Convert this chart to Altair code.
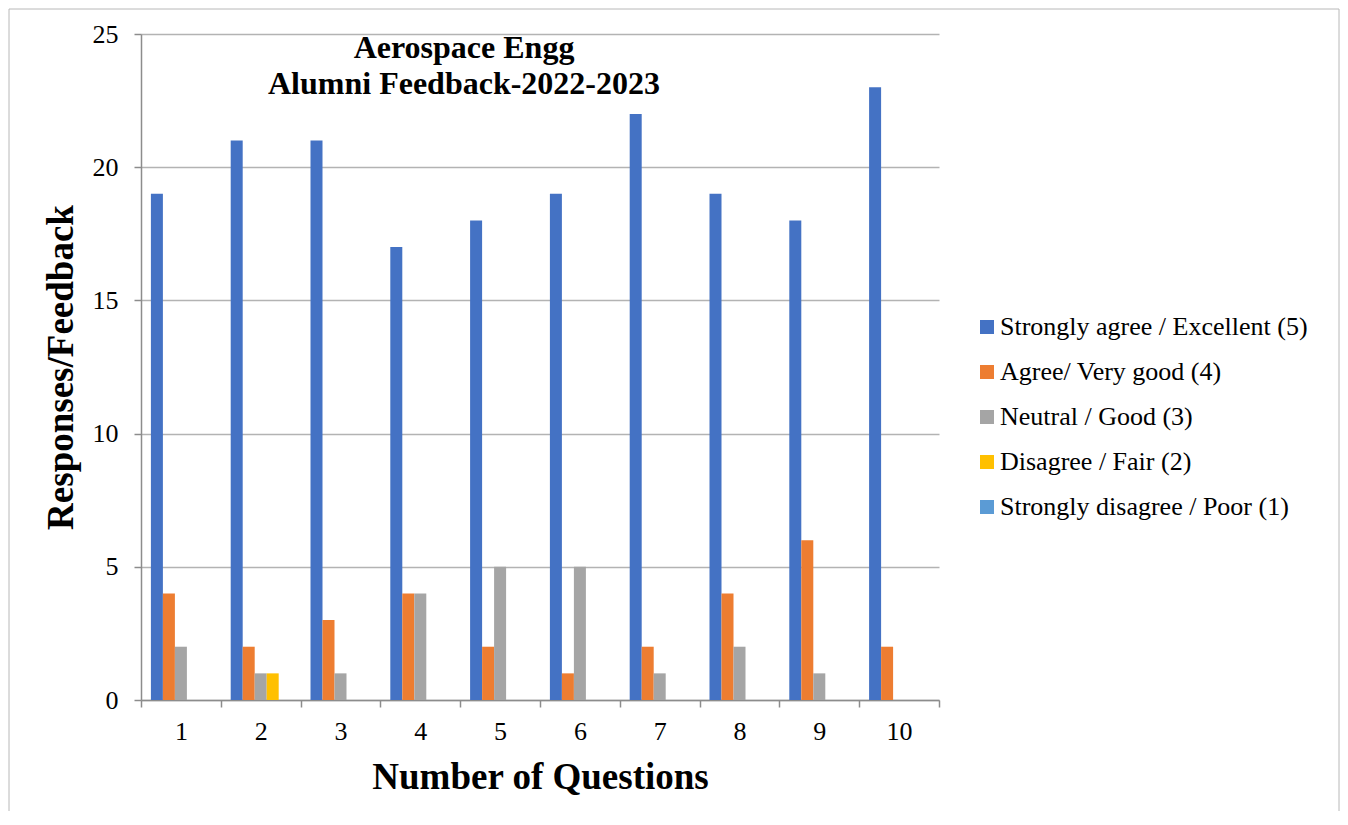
import altair as alt
import pandas as pd

questions = ["1", "2", "3", "4", "5", "6", "7", "8", "9", "10"]
series = [
    "Strongly agree / Excellent (5)",
    "Agree/ Very good (4)",
    "Neutral / Good (3)",
    "Disagree / Fair (2)",
    "Strongly disagree / Poor (1)",
]
colors = ["#4472C4", "#ED7D31", "#A5A5A5", "#FFC000", "#5B9BD5"]

excellent = [19, 21, 21, 17, 18, 19, 22, 19, 18, 23]
very_good = [4, 2, 3, 4, 2, 1, 2, 4, 6, 2]
good = [2, 1, 1, 4, 5, 5, 1, 2, 1, 0]
fair = [0, 1, 0, 0, 0, 0, 0, 0, 0, 0]
poor = [0, 0, 0, 0, 0, 0, 0, 0, 0, 0]
y_ticks = [0, 5, 10, 15, 20, 25]

title_text = "Aerospace Engg\nAlumni Feedback-2022-2023"

rows = []
for i, q in enumerate(questions):
    for s, vals in zip(series, [excellent, very_good, good, fair, poor]):
        rows.append({"Question": q, "Series": s, "Count": vals[i]})
df = pd.DataFrame(rows)

FONT = "Liberation Serif"
AXIS_GRAY = "#8c8c8c"
GRID_GRAY = "#b3b3b3"
FRAME_GRAY = "#b8b8b8"

bars = alt.Chart(df).mark_bar().encode(
    x=alt.X(
        "Question:N",
        sort=questions,
        scale=alt.Scale(paddingInner=0, paddingOuter=0),
        axis=alt.Axis(
            title="Number of Questions",
            labelAngle=0,
            tickBand="extent",
            grid=False,
            domainColor=AXIS_GRAY,
            domainWidth=1.5,
            tickColor=AXIS_GRAY,
            tickWidth=1.5,
            tickSize=7,
            labelPadding=11,
            titlePadding=15,
            labelFont=FONT,
            labelFontSize=26,
            labelColor="black",
            titleFont=FONT,
            titleFontSize=37,
            titleFontWeight="bold",
            titleColor="black",
        ),
    ),
    xOffset=alt.XOffset(
        "Series:N",
        sort=series,
        scale=alt.Scale(domain=series, paddingInner=0, paddingOuter=0.825),
    ),
    y=alt.Y(
        "Count:Q",
        scale=alt.Scale(domain=[0, 25], nice=False),
        axis=alt.Axis(
            title="Responses/Feedback",
            values=y_ticks,
            grid=True,
            gridColor=GRID_GRAY,
            gridWidth=1.3,
            domainColor=AXIS_GRAY,
            domainWidth=1.5,
            tickColor=AXIS_GRAY,
            tickWidth=1.5,
            tickSize=7,
            labelPadding=16,
            titlePadding=12,
            labelFont=FONT,
            labelFontSize=26,
            labelColor="black",
            titleFont=FONT,
            titleFontSize=37,
            titleFontWeight="bold",
            titleColor="black",
        ),
    ),
    color=alt.Color(
        "Series:N",
        sort=series,
        scale=alt.Scale(domain=series, range=colors),
        legend=alt.Legend(
            title=None,
            orient="none",
            legendX=833,
            legendY=280,
            symbolType="square",
            symbolSize=196,
            symbolStrokeWidth=0,
            labelFont=FONT,
            labelFontSize=26,
            labelColor="black",
            rowPadding=19,
            labelOffset=0,
            padding=0,
            labelLimit=0,
        ),
    ),
)

title_df = pd.DataFrame({"t": [title_text]})
title_layer = alt.Chart(title_df).mark_text(
    font=FONT,
    fontSize=32,
    fontWeight="bold",
    lineBreak="\n",
    lineHeight=36,
    align="center",
    baseline="alphabetic",
    color="black",
).encode(x=alt.value(323), y=alt.value(24), text="t:N")

frame_df = pd.DataFrame({"k": [0]})
frame_left = alt.Chart(frame_df).mark_rule(color=FRAME_GRAY, strokeWidth=1).encode(
    x=alt.value(-132), y=alt.value(-25), y2=alt.value(777)
)
frame_right = alt.Chart(frame_df).mark_rule(color=FRAME_GRAY, strokeWidth=1).encode(
    x=alt.value(1198), y=alt.value(-25), y2=alt.value(777)
)
frame_top = alt.Chart(frame_df).mark_rule(color=FRAME_GRAY, strokeWidth=1).encode(
    x=alt.value(-132), x2=alt.value(1198), y=alt.value(-25)
)

chart = (
    alt.layer(bars, title_layer, frame_left, frame_right, frame_top)
    .properties(width=798, height=666, padding=0, background="white")
    .configure_view(strokeWidth=0)
)

chart.save("out.html", embed_options={"renderer": "svg", "actions": False})
